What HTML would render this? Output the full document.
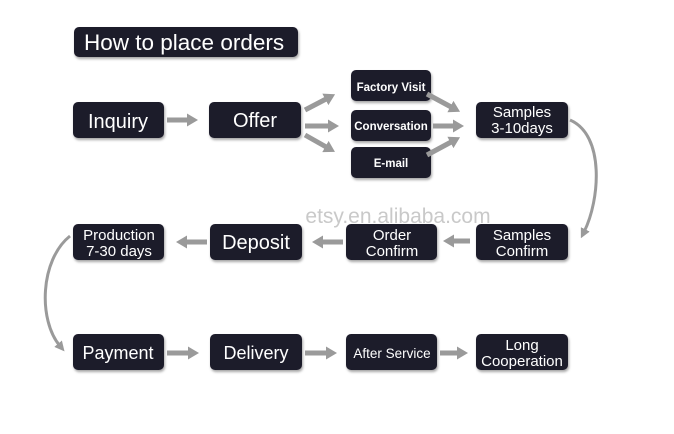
<!DOCTYPE html>
<html><head><meta charset="utf-8"><style>
body{margin:0;background:#fff;}
svg{display:block;font-family:"Liberation Sans",sans-serif;}
</style></head><body>
<svg width="674" height="434" viewBox="0 0 674 434">
<defs>
<marker id="a" markerUnits="userSpaceOnUse" markerWidth="11" markerHeight="13" refX="3" refY="6.5" orient="auto"><path d="M0,0 L11,6.5 L0,13 Z" fill="#9a9a9a"/></marker>
<marker id="b" markerUnits="userSpaceOnUse" markerWidth="10" markerHeight="10" refX="3" refY="5" orient="auto"><path d="M0,0 L10,5 L0,10 Z" fill="#9a9a9a"/></marker>
<filter id="s" x="-10%" y="-10%" width="130%" height="140%"><feDropShadow dx="1" dy="2" stdDeviation="1.2" flood-color="#000" flood-opacity="0.35"/></filter>
</defs>
<g fill="#1f1b2b" filter="url(#s)">
<rect x="74" y="27" width="224" height="30" rx="5"/>
<rect x="73" y="102" width="91" height="36" rx="5"/>
<rect x="209" y="102" width="92" height="36" rx="5"/>
<rect x="351" y="70" width="80" height="31" rx="5"/>
<rect x="351" y="110" width="80" height="31" rx="5"/>
<rect x="351" y="147" width="80" height="31" rx="5"/>
<rect x="476" y="102" width="92" height="36" rx="5"/>
<rect x="73" y="224" width="91" height="36" rx="5"/>
<rect x="210" y="224" width="92" height="36" rx="5"/>
<rect x="346" y="224" width="91" height="36" rx="5"/>
<rect x="476" y="224" width="92" height="36" rx="5"/>
<rect x="73" y="334" width="91" height="36" rx="5"/>
<rect x="210" y="334" width="92" height="36" rx="5"/>
<rect x="346" y="334" width="91" height="36" rx="5"/>
<rect x="476" y="334" width="92" height="36" rx="5"/>
</g>
<g stroke="#9a9a9a" stroke-width="5" fill="none" marker-end="url(#a)">
<line x1="167" y1="120" x2="190" y2="120"/>
<line x1="305" y1="110" x2="328" y2="98"/>
<line x1="305" y1="126" x2="331" y2="126"/>
<line x1="305" y1="135" x2="328" y2="148"/>
<line x1="427" y1="94" x2="453" y2="108"/>
<line x1="433" y1="126" x2="456" y2="126"/>
<line x1="427" y1="155" x2="453" y2="141"/>
<line x1="470" y1="241" x2="451" y2="241"/>
<line x1="343" y1="242" x2="320" y2="242"/>
<line x1="207" y1="242" x2="184" y2="242"/>
<line x1="167" y1="353" x2="191" y2="353"/>
<line x1="305" y1="353" x2="329" y2="353"/>
<line x1="440" y1="353" x2="460" y2="353"/>
</g>
<g stroke="#9a9a9a" stroke-width="3" fill="none" marker-end="url(#b)">
<path d="M570,120 C605,135 600,200 584,232"/>
<path d="M70,236 C40,260 38,320 60,346"/>
</g>
<text x="398" y="223" font-size="21" fill="#c9c9c9" text-anchor="middle">etsy.en.alibaba.com</text>
<g fill="#fff" text-anchor="middle">
<text x="84" y="50" font-size="22.5" text-anchor="start">How to place orders</text>
<text x="118" y="128" font-size="20">Inquiry</text>
<text x="255" y="127" font-size="20">Offer</text>
<text x="391" y="91" font-size="11.5" font-weight="bold">Factory Visit</text>
<text x="391" y="130" font-size="11.5" font-weight="bold">Conversation</text>
<text x="391" y="167" font-size="11.5" font-weight="bold">E-mail</text>
<text x="522" y="117" font-size="15">Samples</text>
<text x="522" y="133" font-size="15">3-10days</text>
<text x="119" y="240" font-size="15">Production</text>
<text x="119" y="256" font-size="15">7-30 days</text>
<text x="256" y="249" font-size="20">Deposit</text>
<text x="392" y="240" font-size="15">Order</text>
<text x="392" y="256" font-size="15">Confirm</text>
<text x="522" y="240" font-size="15">Samples</text>
<text x="522" y="256" font-size="15">Confirm</text>
<text x="118" y="359" font-size="18">Payment</text>
<text x="256" y="359" font-size="18">Delivery</text>
<text x="392" y="358" font-size="13.5">After Service</text>
<text x="522" y="350" font-size="15">Long</text>
<text x="522" y="366" font-size="15">Cooperation</text>
</g>
</svg>
</body></html>
